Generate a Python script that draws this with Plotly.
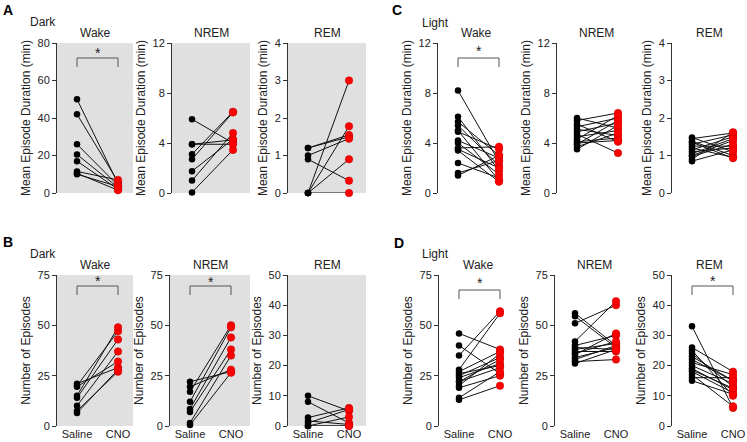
import plotly.graph_objects as go

W, H = 747, 442

# ---------------- DATA ----------------
conditions = ["Saline", "CNO"]

# Dark, mean episode duration (min)
dark_dur_wake_saline = [50, 42, 26, 20.5, 17, 11.5, 10.5, 10]
dark_dur_wake_cno = [5, 6, 4, 3, 2, 7, 1.5, 3.5]
dark_dur_nrem_saline = [5.9, 3.9, 3.9, 3.1, 2.7, 1.75, 1.0, 0.05]
dark_dur_nrem_cno = [4.0, 4.25, 3.9, 6.5, 6.45, 4.3, 4.8, 3.45]
dark_dur_rem_saline = [1.2, 1.2, 1.0, 0.9, 0.0, 0.0, 0.0, 0.0]
dark_dur_rem_cno = [1.55, 1.5, 1.45, 0.33, 3.0, 1.78, 0.9, 0.0]

# Light, mean episode duration (min)
light_dur_wake_saline = [8.2, 6.1, 5.7, 5.4, 5.0, 4.9, 4.2, 4.0, 3.6, 3.5, 3.4, 2.4, 1.6, 1.4]
light_dur_wake_cno = [2.5, 1.8, 3.0, 2.2, 1.0, 3.5, 2.8, 1.5, 3.7, 2.0, 0.9, 1.2, 2.6, 3.0]
light_dur_nrem_saline = [6.0, 5.8, 5.5, 5.3, 5.1, 4.9, 4.7, 4.5, 4.3, 4.1, 3.9, 3.7, 3.5, 4.0]
light_dur_nrem_cno = [5.2, 6.4, 4.1, 6.0, 4.6, 5.6, 3.2, 5.0, 6.2, 4.4, 5.8, 4.8, 5.4, 4.2]
light_dur_rem_saline = [1.48, 1.45, 1.38, 1.3, 1.25, 1.2, 1.15, 1.1, 1.0, 0.98, 0.9, 0.85, 1.35, 1.05]
light_dur_rem_cno = [1.1, 1.6, 1.0, 1.55, 1.25, 0.95, 1.5, 1.2, 1.4, 1.3, 1.62, 1.15, 0.93, 1.45]

# Dark, number of episodes
dark_num_wake_saline = [21, 20, 19.5, 15, 14, 10, 7.5, 6.5]
dark_num_wake_cno = [29, 47, 32, 49, 43, 37, 27, 28]
dark_num_nrem_saline = [22, 19.5, 17, 12, 8.5, 7, 1.5, 0.5]
dark_num_nrem_cno = [27, 28, 50, 49, 44, 38, 35, 26.5]
dark_num_rem_saline = [10, 8, 2.8, 1.7, 1, 0, 0, 0]
dark_num_rem_cno = [5, 1, 6, 0.5, 5.5, 3, 0, 0]

# Light, number of episodes
light_num_wake_saline = [46, 40, 35, 28, 27, 26, 25, 24, 22, 20, 19, 14, 13, 22]
light_num_wake_cno = [38, 26, 57, 56, 37, 30, 34, 31, 29, 36, 25, 27, 20, 33]
light_num_nrem_saline = [56, 54.5, 51, 42, 40, 39, 38, 37, 35.5, 34, 33, 32, 31, 36]
light_num_nrem_cno = [40, 39, 60, 62, 45, 38, 41, 37, 46, 39, 40, 33, 38, 42]
light_num_rem_saline = [33, 26, 25, 24, 22, 21, 20, 19, 18, 17, 16, 15, 23, 18.5]
light_num_rem_cno = [6, 18, 10, 13, 15, 17, 14, 12, 11, 6.5, 16, 10.5, 15, 12.5]

dur_title = "Mean Episode Duration (min)"
num_title = "Number of Episodes"

# ---------------- LAYOUT ----------------
FONT = "Liberation Sans, Arial, sans-serif"
GRAY_BG = "#e0e0e0"
AX_COL = "#333333"

top_y = (43, 193)
bot_y = (275, 426)
top_x = [(57, 133), (172, 250), (288, 366), (438, 516), (557, 635), (672, 747)]
bot_x = [(57, 133), (170, 250), (288, 366), (439, 517), (555, 633), (672, 747)]
PX_UNIT = 41.0
OFFSET = 20.0

panels = [
    dict(s=dark_dur_wake_saline, c=dark_dur_wake_cno, ymax=80, dt=20, yt=dur_title, gray=True,
         title="Wake", xp=top_x[0], yp=top_y, star=(50, 58, 67), xt=False),
    dict(s=dark_dur_nrem_saline, c=dark_dur_nrem_cno, ymax=12, dt=4, yt=dur_title, gray=True,
         title="NREM", xp=top_x[1], yp=top_y, star=None, xt=False),
    dict(s=dark_dur_rem_saline, c=dark_dur_rem_cno, ymax=4, dt=1, yt=dur_title, gray=True,
         title="REM", xp=top_x[2], yp=top_y, star=None, xt=False),
    dict(s=light_dur_wake_saline, c=light_dur_wake_cno, ymax=12, dt=4, yt=dur_title, gray=False,
         title="Wake", xp=top_x[3], yp=top_y, star=(48, 58, 67), xt=False),
    dict(s=light_dur_nrem_saline, c=light_dur_nrem_cno, ymax=12, dt=4, yt=dur_title, gray=False,
         title="NREM", xp=top_x[4], yp=top_y, star=None, xt=False),
    dict(s=light_dur_rem_saline, c=light_dur_rem_cno, ymax=4, dt=1, yt=dur_title, gray=False,
         title="REM", xp=top_x[5], yp=top_y, star=None, xt=False),
    dict(s=dark_num_wake_saline, c=dark_num_wake_cno, ymax=75, dt=25, yt=num_title, gray=True,
         title="Wake", xp=bot_x[0], yp=bot_y, star=(278, 286, 295), xt=True),
    dict(s=dark_num_nrem_saline, c=dark_num_nrem_cno, ymax=75, dt=25, yt=num_title, gray=True,
         title="NREM", xp=bot_x[1], yp=bot_y, star=(279, 286, 295), xt=True),
    dict(s=dark_num_rem_saline, c=dark_num_rem_cno, ymax=50, dt=10, yt=num_title, gray=True,
         title="REM", xp=bot_x[2], yp=bot_y, star=None, xt=True),
    dict(s=light_num_wake_saline, c=light_num_wake_cno, ymax=75, dt=25, yt=num_title, gray=False,
         title="Wake", xp=bot_x[3], yp=bot_y, star=(280, 290, 299), xt=True),
    dict(s=light_num_nrem_saline, c=light_num_nrem_cno, ymax=75, dt=25, yt=num_title, gray=False,
         title="NREM", xp=bot_x[4], yp=bot_y, star=None, xt=True),
    dict(s=light_num_rem_saline, c=light_num_rem_cno, ymax=50, dt=10, yt=num_title, gray=False,
         title="REM", xp=bot_x[5], yp=bot_y, star=(278, 286, 295), xt=True),
]


def px_x(p):
    return p / W


def px_y(p):
    return 1 - p / H


fig = go.Figure()
shapes = []
annotations = []
layout_axes = {}

for i, p in enumerate(panels):
    n = i + 1
    xa = "x" if n == 1 else f"x{n}"
    ya = "y" if n == 1 else f"y{n}"
    xkey = "xaxis" if n == 1 else f"xaxis{n}"
    ykey = "yaxis" if n == 1 else f"yaxis{n}"
    x0, x1 = p["xp"]
    y0, y1 = p["yp"]
    width = x1 - x0
    xr = [-OFFSET / PX_UNIT, (width - OFFSET) / PX_UNIT]

    for s, c in zip(p["s"], p["c"]):
        fig.add_trace(go.Scatter(x=[0, 1], y=[s, c], mode="lines",
                                 line=dict(color="#111111", width=1),
                                 xaxis=xa, yaxis=ya, showlegend=False,
                                 hoverinfo="skip", cliponaxis=False))
    fig.add_trace(go.Scatter(x=[0] * len(p["s"]), y=p["s"], mode="markers",
                             marker=dict(color="#000000", size=6.5),
                             xaxis=xa, yaxis=ya, showlegend=False, cliponaxis=False))
    fig.add_trace(go.Scatter(x=[1] * len(p["c"]), y=p["c"], mode="markers",
                             marker=dict(color="#ff0000", size=7.5,
                                         line=dict(color="#c00000", width=0.5)),
                             xaxis=xa, yaxis=ya, showlegend=False, cliponaxis=False))

    layout_axes[xkey] = dict(
        domain=[px_x(x0), px_x(x1)], range=xr, anchor=ya, automargin=False,
        showline=False, showgrid=False, zeroline=False,
        tickmode="array",
        tickvals=[0, 1] if p["xt"] else [],
        ticktext=conditions if p["xt"] else [],
        ticks="", ticklen=0,
        tickfont=dict(family=FONT, size=11, color="#222222"),
    )
    layout_axes[ykey] = dict(
        domain=[px_y(y1), px_y(y0)], range=[0, p["ymax"]], anchor=xa, automargin=False,
        showline=True, linecolor=AX_COL, linewidth=1,
        showgrid=False, zeroline=False,
        ticks="outside", ticklen=4, tickcolor=AX_COL, tickwidth=1,
        tick0=0, dtick=p["dt"],
        tickfont=dict(family=FONT, size=11, color="#222222"),
        title=dict(text=p["yt"], font=dict(family=FONT, size=12, color="#222222"),
                   standoff=4),
    )

    if p["gray"]:
        shapes.append(dict(type="rect", xref=f"{xa} domain", yref=f"{ya} domain",
                           x0=0, x1=1, y0=0, y1=1, fillcolor=GRAY_BG,
                           line=dict(width=0), layer="below"))

    annotations.append(dict(text=p["title"], xref="paper", yref="paper",
                            x=px_x((x0 + x1) / 2), y=px_y(y0 - 10),
                            xanchor="center", yanchor="middle", showarrow=False,
                            font=dict(family=FONT, size=12, color="#222222")))

    if p["star"]:
        sy, by, ty = p["star"]
        shapes.append(dict(type="path", xref=xa, yref="paper",
                           path=f"M 0,{px_y(ty)} L 0,{px_y(by)} L 1,{px_y(by)} L 1,{px_y(ty)}",
                           line=dict(color="#555555", width=1)))
        annotations.append(dict(text="*", xref=xa, yref="paper", x=0.5,
                                y=px_y(sy + 3), xanchor="center", yanchor="middle",
                                showarrow=False,
                                font=dict(family=FONT, size=14, color="#222222")))

labels = [("A", 8, 10, True), ("Dark", 28, 22, False),
          ("B", 8, 242, True), ("Dark", 28, 254, False),
          ("C", 397, 10, True), ("Light", 420, 23, False),
          ("D", 399, 243, True), ("Light", 420, 254, False)]
for text, x, y, bold in labels:
    annotations.append(dict(text=f"<b>{text}</b>" if bold else text,
                            xref="paper", yref="paper", x=px_x(x), y=px_y(y),
                            xanchor="left" if not bold else "center",
                            yanchor="middle", showarrow=False,
                            font=dict(family=FONT, size=14 if bold else 12,
                                      color="#000000" if bold else "#222222")))

fig.update_layout(
    width=W, height=H,
    margin=dict(l=0, r=0, t=0, b=0, autoexpand=False),
    paper_bgcolor="white", plot_bgcolor="rgba(0,0,0,0)",
    shapes=shapes, annotations=annotations,
    font=dict(family=FONT),
    hovermode=False,
    **layout_axes,
)

fig.write_html("out.html",
               config={"displayModeBar": False},
               post_script="document.body.style.margin='0px';document.body.style.overflow='hidden';")
